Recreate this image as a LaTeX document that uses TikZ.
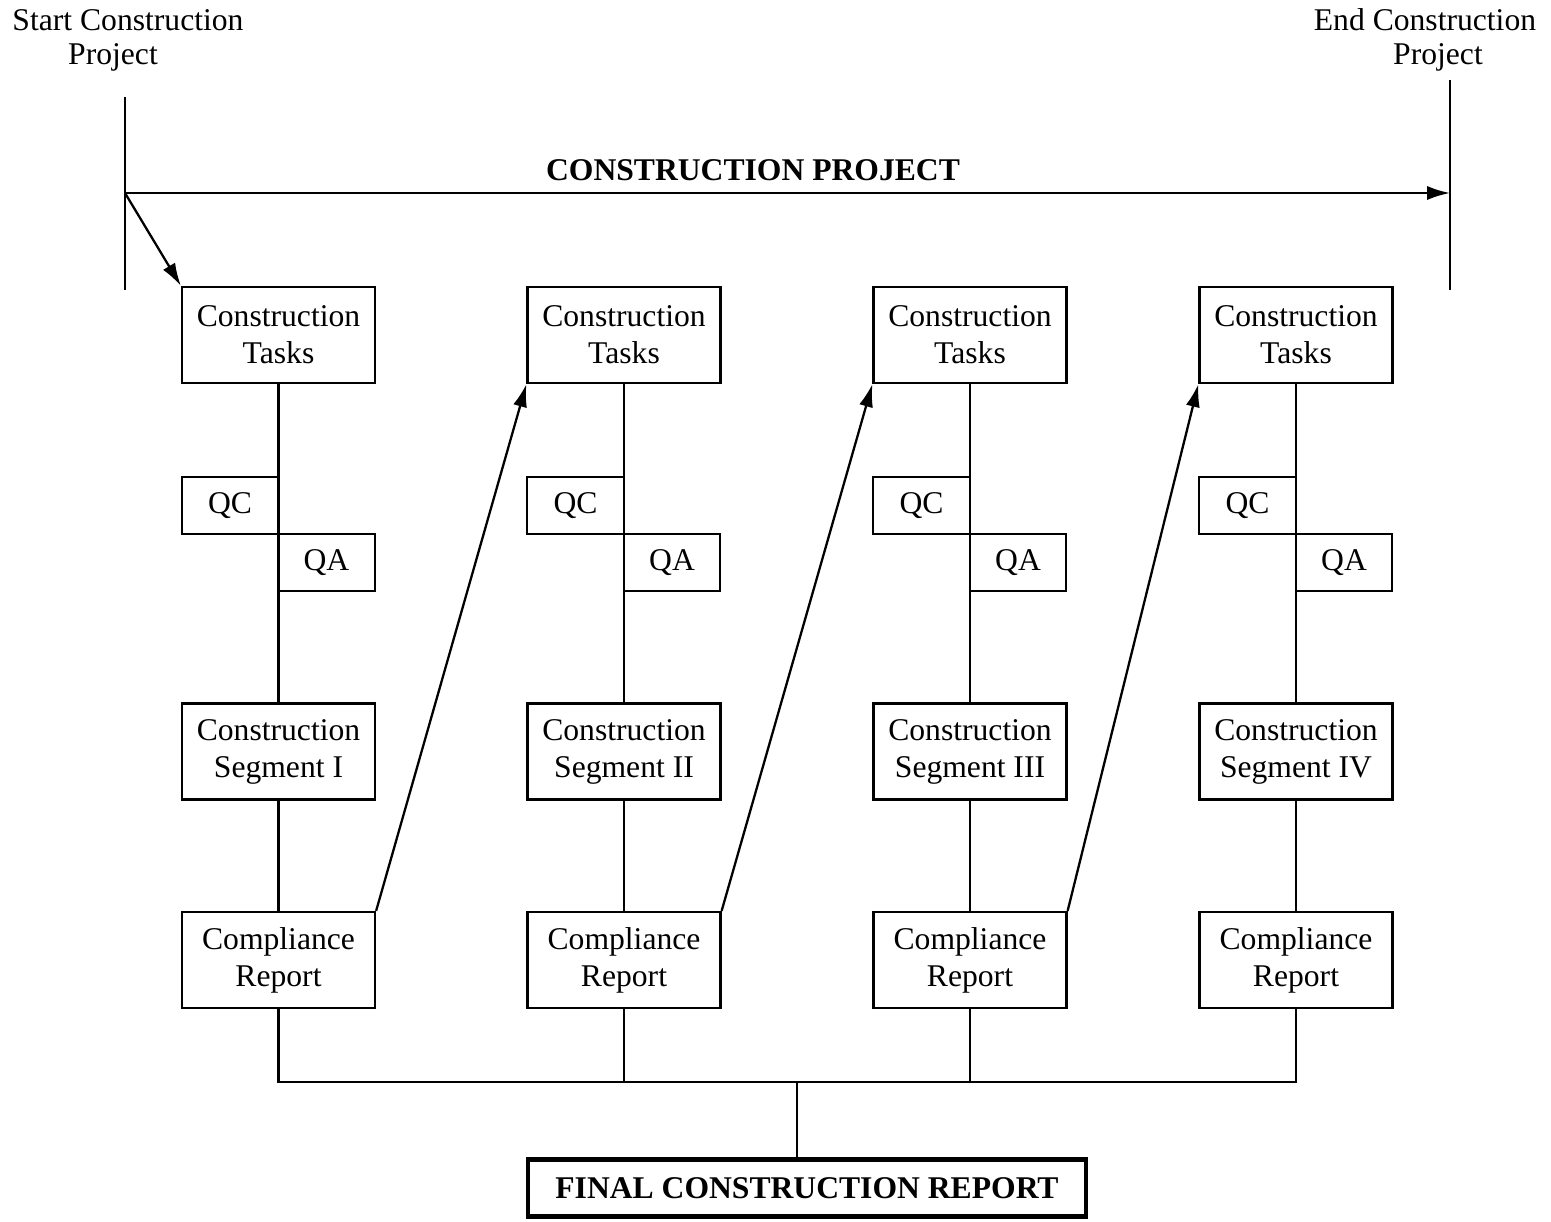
\documentclass[tikz,border=0pt]{standalone}
\usepackage{fontspec}
\setmainfont{Liberation Serif}
\usetikzlibrary{arrows.meta}

\begin{document}
\begin{tikzpicture}[x=0.02cm,y=-0.02cm,
  box/.style={draw,line width=1.3pt,minimum width=3.86cm,minimum height=1.92cm,
    inner sep=0pt,align=center,font=\fontsize{18}{21}\selectfont},
  qbox/.style={draw,line width=1.3pt,minimum width=1.93cm,minimum height=1.14cm,
    inner sep=0pt,font=\fontsize{18}{21}\selectfont},
  lbl/.style={font=\fontsize{18}{21}\selectfont},
  link/.style={line width=1.3pt},
  arr/.style={line width=1.3pt,-{Latex[length=13pt,width=8pt]}}]
\useasboundingbox (0,0) rectangle (1551,1221);

% start / end markers and the project time line
\node[lbl] (start1) at (128,20) {Start Construction};
\node[lbl] (start2) at (113,57) {Project};
\node[lbl] (end1) at (1425,20) {End Construction};
\node[lbl] (end2) at (1438,57) {Project};
\coordinate (s0) at (125,97);
\coordinate (s1) at (125,290);
\coordinate (e0) at (1450,80);
\coordinate (e1) at (1450,290);
\coordinate (ts) at (125,193);
\coordinate (te) at (1450,193);
\draw[link] (s0) -- (s1);
\draw[link] (e0) -- (e1);
\draw[arr] (ts) -- (te);
\node[lbl,font=\fontsize{18}{21}\selectfont\bfseries] (proj) at (753,170) {CONSTRUCTION PROJECT};

% column 1
\node[box] (tasks1) at (278.5,335) {Construction\\Tasks};
\node[qbox] (qc1) at (230,505.5) {QC};
\node[qbox] (qa1) at (326.5,562.5) {QA};
\node[box] (seg1) at (278.5,751.5) {Construction\\Segment I};
\node[box] (rep1) at (278.5,960) {Compliance\\Report};
% column 2
\node[box] (tasks2) at (624,335) {Construction\\Tasks};
\node[qbox] (qc2) at (575.5,505.5) {QC};
\node[qbox] (qa2) at (672,562.5) {QA};
\node[box] (seg2) at (624,751.5) {Construction\\Segment II};
\node[box] (rep2) at (624,960) {Compliance\\Report};
% column 3
\node[box] (tasks3) at (970,335) {Construction\\Tasks};
\node[qbox] (qc3) at (921.5,505.5) {QC};
\node[qbox] (qa3) at (1018,562.5) {QA};
\node[box] (seg3) at (970,751.5) {Construction\\Segment III};
\node[box] (rep3) at (970,960) {Compliance\\Report};
% column 4
\node[box] (tasks4) at (1296,335) {Construction\\Tasks};
\node[qbox] (qc4) at (1247.5,505.5) {QC};
\node[qbox] (qa4) at (1344,562.5) {QA};
\node[box] (seg4) at (1296,751.5) {Construction\\Segment IV};
\node[box] (rep4) at (1296,960) {Compliance\\Report};

% final report
\node[draw,line width=2.4pt,minimum width=11.16cm,minimum height=1.14cm,inner sep=0pt,
  font=\fontsize{18}{21}\selectfont\bfseries] (final) at (807,1188) {FINAL CONSTRUCTION REPORT};

% vertical links in each column
\draw[link] (tasks1) -- (seg1) -- (rep1);
\draw[link] (tasks2) -- (seg2) -- (rep2);
\draw[link] (tasks3) -- (seg3) -- (rep3);
\draw[link] (tasks4) -- (seg4) -- (rep4);

% arrows into the tasks
\draw[arr] (ts) -- (tasks1.north west);
\draw[arr] (rep1.north east) -- (tasks2.south west);
\draw[arr] (rep2.north east) -- (tasks3.south west);
\draw[arr] (rep3.north east) -- (tasks4.south west);

% reports collected into the final report
\coordinate (bus) at (797,1082);
\draw[link] (rep1.south) -- (rep1.south |- bus) -- (rep4.south |- bus) -- (rep4.south);
\draw[link] (rep2.south) -- (rep2.south |- bus);
\draw[link] (rep3.south) -- (rep3.south |- bus);
\draw[link] (bus) -- (bus |- final.north);
\end{tikzpicture}
\end{document}
